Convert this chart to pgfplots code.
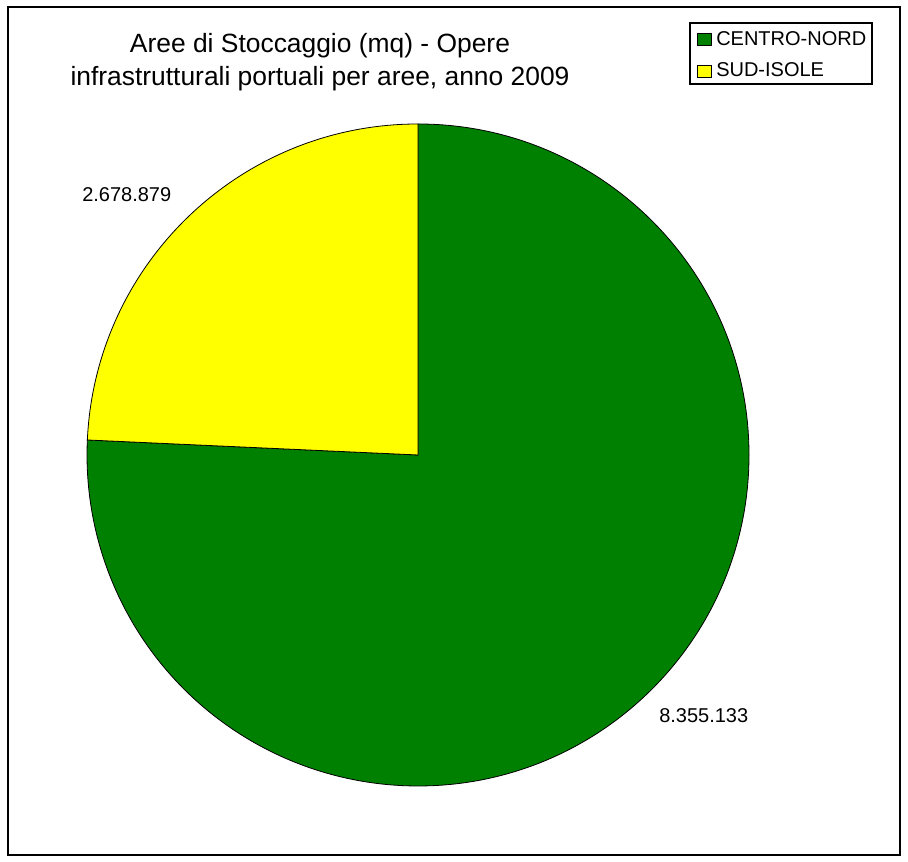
\documentclass[border=0pt]{standalone}
\usepackage{fontspec}
\setmainfont{Liberation Sans}
\usepackage{pgfplots}
\pgfplotsset{compat=1.18}

\definecolor{nordgreen}{HTML}{008000}
\definecolor{sudyellow}{HTML}{FFFF00}

% values in thousands of mq (pgfmath cannot hold the full numbers)
\def\valNord{8355.133}
\def\valSud{2678.879}

\begin{document}
\begin{tikzpicture}
\begin{axis}[
    x=0.75pt, y=0.75pt,
    xmin=0, xmax=908, ymin=0, ymax=862,
    hide axis,
    clip=false,
]
\pgfmathsetmacro{\total}{\valNord+\valSud}
\pgfmathsetmacro{\fracNord}{\valNord/\total}
\pgfmathsetmacro{\angNord}{360*\fracNord}
\pgfmathsetmacro{\endNord}{90-\angNord}
\pgfmathsetmacro{\R}{331*0.75}

% page area and frame
\path (axis cs:0,0) rectangle (axis cs:908,862);
\draw[black, line width=0.8pt, fill=white] (axis cs:8,7) rectangle (axis cs:900,855);

% pie: centre (418,407), radius 331 px, starting at 12 o'clock, clockwise
\filldraw[fill=nordgreen, draw=black, line width=0.6pt]
    (axis cs:418,407) -- ++(90:\R pt) arc[start angle=90, end angle=\endNord, radius=\R pt] -- cycle;
\filldraw[fill=sudyellow, draw=black, line width=0.6pt]
    (axis cs:418,407) -- ++(\endNord+360:\R pt) arc[start angle=\endNord+360, end angle=90, radius=\R pt] -- cycle;

% data labels
\node[anchor=base west, inner sep=0pt, font=\fontsize{15}{18}\selectfont] at (axis cs:82,660) {2.678.879};
\node[anchor=base west, inner sep=0pt, font=\fontsize{15}{18}\selectfont] at (axis cs:659,139) {8.355.133};

% title
\node[anchor=base, inner sep=0pt, font=\fontsize{19.8}{24}\selectfont] at (axis cs:320,809) {Aree di Stoccaggio (mq) - Opere};
\node[anchor=base, inner sep=0pt, font=\fontsize{19.8}{24}\selectfont] at (axis cs:320,776) {infrastrutturali portuali per aree, anno 2009};

% legend
\draw[black, line width=0.8pt, fill=white] (axis cs:690,778) rectangle (axis cs:872,839);
\filldraw[fill=nordgreen, draw=black, line width=0.5pt] (axis cs:697,817) rectangle (axis cs:711,829);
\filldraw[fill=sudyellow, draw=black, line width=0.5pt] (axis cs:697,785) rectangle (axis cs:711,797);
\node[anchor=base west, inner sep=0pt, font=\fontsize{15}{18}\selectfont] at (axis cs:716,816) {CENTRO-NORD};
\node[anchor=base west, inner sep=0pt, font=\fontsize{15}{18}\selectfont] at (axis cs:716,785) {SUD-ISOLE};
\end{axis}
\end{tikzpicture}
\end{document}
